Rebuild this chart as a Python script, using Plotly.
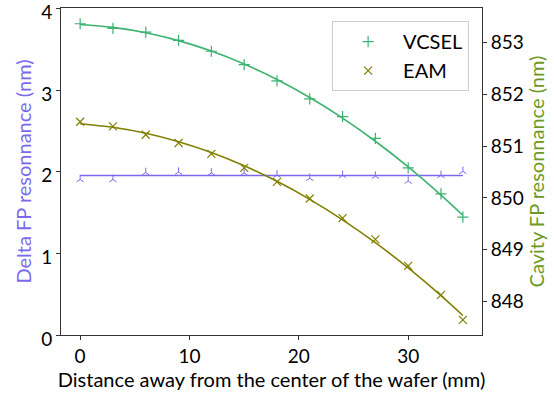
import numpy as np
import plotly.graph_objects as go

# Data
distance_mm = [0, 3, 6, 9, 12, 15, 18, 21, 24, 27, 30, 33, 35]
vcsel_nm = [853.36, 853.27, 853.20, 853.04, 852.83, 852.57, 852.26, 851.91,
            851.57, 851.15, 850.58, 850.08, 849.63]
eam_nm = [851.47, 851.38, 851.22, 851.06, 850.85, 850.58, 850.31, 849.99,
          849.61, 849.20, 848.69, 848.13, 847.65]
delta_nm = [1.905, 1.905, 1.99, 1.995, 1.985, 1.985, 1.96, 1.92,
            1.955, 1.945, 1.885, 1.955, 2.005]

x = np.array(distance_mm, dtype=float)
vcsel_fit = np.polyval(np.polyfit(x, vcsel_nm, 2), x)
eam_fit = np.polyval(np.polyfit(x, eam_nm, 2), x)
delta_fit = np.full_like(x, np.mean(delta_nm))

C_VCSEL = "#3CB371"
C_EAM = "#808000"
C_DELTA = "#7B68EE"
C_RIGHT = "#6B9A1F"
FONT = "Lato"
FS = 20
TFS = 19

fig = go.Figure()

# Delta FP resonance (left axis)
fig.add_trace(go.Scatter(x=distance_mm, y=delta_nm, mode="markers",
                         marker=dict(symbol="y-up-open", size=6, color=C_DELTA,
                                     line=dict(color=C_DELTA, width=1)),
                         showlegend=False, yaxis="y"))
fig.add_trace(go.Scatter(x=distance_mm, y=delta_fit, mode="lines",
                         line=dict(color=C_DELTA, width=1.6),
                         showlegend=False, yaxis="y"))

# Cavity FP resonances (right axis)
fig.add_trace(go.Scatter(x=distance_mm, y=vcsel_nm, mode="markers", name="VCSEL",
                         marker=dict(symbol="cross-thin-open", size=8, color=C_VCSEL,
                                     line=dict(color=C_VCSEL, width=1.2)),
                         yaxis="y2"))
fig.add_trace(go.Scatter(x=distance_mm, y=vcsel_fit, mode="lines",
                         line=dict(color=C_VCSEL, width=1.6, shape="spline"),
                         showlegend=False, yaxis="y2"))
fig.add_trace(go.Scatter(x=distance_mm, y=eam_nm, mode="markers", name="EAM",
                         marker=dict(symbol="x-thin-open", size=8, color=C_EAM,
                                     line=dict(color=C_EAM, width=1.2)),
                         yaxis="y2"))
fig.add_trace(go.Scatter(x=distance_mm, y=eam_fit, mode="lines",
                         line=dict(color=C_EAM, width=1.6, shape="spline"),
                         showlegend=False, yaxis="y2"))

axis_common = dict(showgrid=False, zeroline=False, showline=True, linecolor="#333333",
                   linewidth=1, ticks="outside", ticklen=4, tickcolor="#333333",
                   automargin=False, ticklabeloverflow="allow",
                   tickfont=dict(family=FONT, size=TFS, color="black"))

fig.update_layout(
    width=554, height=395,
    margin=dict(l=61, r=72, t=8, b=60),
    paper_bgcolor="white", plot_bgcolor="white",
    font=dict(family=FONT, size=FS, color="black"),
    xaxis=dict(range=[-1.75, 36.75], tickvals=[0, 10, 20, 30], mirror=True,
               title=dict(text="Distance away from the center of the wafer (mm)",
                          font=dict(family=FONT, size=FS, color="black"), standoff=2),
               **axis_common),
    yaxis=dict(range=[0, 4.005], tickvals=[0, 1, 2, 3, 4], ticklabelshift=4,
               title=dict(text="Delta FP resonnance (nm)",
                          font=dict(family=FONT, size=FS, color=C_DELTA), standoff=4),
               **axis_common),
    yaxis2=dict(range=[847.357, 853.664], tickvals=[848, 849, 850, 851, 852, 853],
                overlaying="y", side="right", anchor="x",
                title=dict(text="Cavity FP resonnance (nm)",
                           font=dict(family=FONT, size=FS, color=C_RIGHT), standoff=4),
                **axis_common),
    legend=dict(x=0.644, y=0.96, xanchor="left", yanchor="top",
                bgcolor="rgba(255,255,255,0.8)", bordercolor="#CCCCCC", borderwidth=1,
                font=dict(family=FONT, size=FS, color="black"), itemwidth=60),
)

fig.write_html("out.html", config={"displayModeBar": False},
               post_script="document.body.style.margin='0';")
